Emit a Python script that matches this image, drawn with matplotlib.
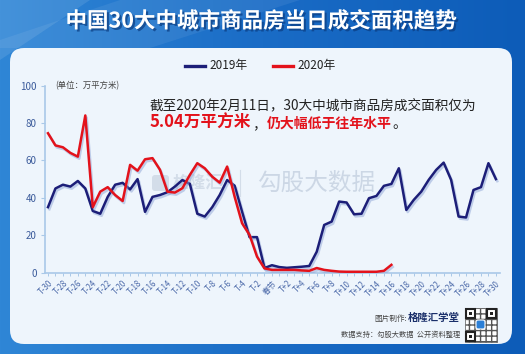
import numpy as np
import matplotlib
matplotlib.use("Agg")
import matplotlib.pyplot as plt
import matplotlib.patheffects as pe
from matplotlib.patches import FancyBboxPatch, Rectangle, Polygon

plt.rcParams['font.family'] = ['Noto Sans CJK SC', 'DejaVu Sans']

# x categories: T-30 .. T-1, 春节, T+1 .. T+30
days = ['T-%d' % k for k in range(30, 0, -1)] + ['春节'] + ['T+%d' % k for k in range(1, 31)]

# daily area traded, 万平方米
area_2019 = [35, 45, 47, 46, 49, 45, 33, 31.5, 40.5, 47,
             48, 44.5, 50, 32.5, 40.5, 41.5, 43, 46, 49.5, 47.5,
             31.5, 30, 35, 41.5, 49.5, 46.5, 32.5, 19, 19, 2.5,
             4, 3, 2.6, 2.9, 3.2, 3.6, 11.2, 25.5, 27.3, 38,
             37.5, 31.2, 31.5, 39.8, 41, 46.4, 47.4, 55.8, 33.5, 38.9,
             43.3, 49.6, 54.9, 58.8, 49.6, 30, 29.5, 44.2, 45.7, 58.5,
             50]
area_2020 = [74.5, 68, 67, 64, 62, 84, 35, 43.3, 45.7, 41.5,
             38.3, 57.6, 54.5, 60.6, 61.2, 55, 43.3, 42.8, 45.1, 52.2,
             58.5, 55.8, 51.3, 48.1, 56.7, 40.6, 26.4, 20.2, 8.6, 2.3,
             1.5, 1.5, 1.5, 1.5, 1.2, 1.0, 2.5, 1.5, 1.0, 0.6,
             0.5, 0.5, 0.5, 0.5, 0.5, 1.0, 4.2]
yticks = [0, 20, 40, 60, 80, 100]

W, H = 525, 354
fig = plt.figure(figsize=(W / 100, H / 100), dpi=100)

# ---- background (pixel coords) ----
bg = fig.add_axes([0, 0, 1, 1])
bg.set_xlim(0, W)
bg.set_ylim(H, 0)
bg.axis('off')
gx = np.linspace(0, 1, 200)
grad = np.vstack([gx] * 50)
cmap = matplotlib.colors.LinearSegmentedColormap.from_list('bgc', ['#2f86d6', '#1a6cc6', '#0d5cb8'])
bg.imshow(grad, extent=[0, W, H, 0], aspect='auto', cmap=cmap, zorder=0)
# light diagonal bands in the header
bg.add_patch(Polygon([[0, 0], [90, 0], [0, 60]], closed=True, color='white', alpha=0.10, lw=0, zorder=1))
bg.add_patch(Polygon([[120, 0], [300, 0], [150, 48], [0, 48], [0, 40]], closed=True, color='white', alpha=0.07, lw=0, zorder=1))
bg.add_patch(FancyBboxPatch((10, 48), 502, 296, boxstyle='round,pad=0,rounding_size=14',
                            fc='#eef5fc', ec='none', zorder=2))

title = bg.text(261, 21, '中国30大中城市商品房当日成交面积趋势', color='white', fontsize=15.5,
                fontweight='bold', ha='center', va='center', zorder=5)
title.set_path_effects([pe.SimplePatchShadow(offset=(1.5, -1.5), shadow_rgbFace='#0b3c80', alpha=0.7), pe.Normal()])

# legend
bg.plot([185, 205], [66, 66], color='#1c1e78', lw=2.4, zorder=5)
bg.text(209, 66, '2019年', fontsize=8.5, color='#222222', va='center', zorder=5)
bg.plot([273, 293], [66, 66], color='#e3121b', lw=2.4, zorder=5)
bg.text(297, 66, '2020年', fontsize=8.5, color='#222222', va='center', zorder=5)

# watermark
bg.add_patch(FancyBboxPatch((152, 175), 17, 16, boxstyle='round,pad=0,rounding_size=3',
                            fc='#d3dde9', ec='none', zorder=3))
bg.text(173, 183, '格隆汇', fontsize=12, color='#d3dde9', va='center', fontweight='bold', zorder=3)
bg.plot([240, 240], [170, 196], color='#d3dde9', lw=0.8, zorder=3)
bg.text(316, 183, '勾股大数据', fontsize=17, color='#ccd7e5', ha='center', va='center', zorder=3)

# annotation
bg.text(150, 105, '截至2020年2月11日，30大中城市商品房成交面积仅为', fontsize=9.8,
        color='#222222', va='center', zorder=6)
bg.text(150, 123, '5.04万平方米', fontsize=12, color='#e3121b', fontweight='bold', va='center', zorder=6)
bg.text(252, 124, '，', fontsize=10, color='#222222', va='center', zorder=6)
bg.text(267, 124, '仍大幅低于往年水平', fontsize=10, color='#e3121b', fontweight='bold', va='center', zorder=6)
bg.text(392, 124, '。', fontsize=10, color='#222222', va='center', zorder=6)

# footer
bg.text(407, 319, '图片制作:', fontsize=5.5, color='#444444', ha='right', va='center', zorder=6)
bg.text(460, 318, '格隆汇学堂', fontsize=7.5, color='#1a2f6a', fontweight='bold', ha='right', va='center', zorder=6)
bg.text(460, 335, '数据支持：勾股大数据  公开资料整理', fontsize=5.2, color='#444444', ha='right', va='center', zorder=6)
# qr-like badge
bg.add_patch(Rectangle((465, 308), 32, 34, fc='white', ec='#555555', lw=0.5, hatch='+++', zorder=6))
for qx, qy in [(466, 309), (487, 309), (466, 332)]:
    bg.add_patch(Rectangle((qx, qy), 9, 9, fc='white', ec='#222222', lw=1.5, zorder=7))
    bg.add_patch(Rectangle((qx + 3, qy + 3), 3, 3, fc='#222222', ec='none', zorder=8))
bg.add_patch(FancyBboxPatch((476, 320), 9, 9, boxstyle='round,pad=0,rounding_size=2',
                            fc='#2c7fd6', ec='white', lw=0.8, zorder=8))

# ---- chart ----
left, right = 45, 500
y0, y100 = 272.7, 85.5
ax = fig.add_axes([left / W, (H - y0) / H, (right - left) / W, (y0 - y100) / H])
ax.patch.set_alpha(0)
x = np.arange(len(days))
shadow = [pe.SimpleLineShadow(offset=(1, -1.5), shadow_color='#8ea4d6', alpha=0.5), pe.Normal()]
ax.plot(x, area_2019, color='#1c1e78', lw=1.8, path_effects=shadow, zorder=3)
ax.plot(x[:len(area_2020)], area_2020, color='#e3121b', lw=1.8, path_effects=shadow, zorder=4)

ax.set_xlim(-0.4, 60.55)
ax.set_ylim(0, 100)
for s in ['top', 'right']:
    ax.spines[s].set_visible(False)
for s in ['left', 'bottom']:
    ax.spines[s].set_color('#a9c8e8')
    ax.spines[s].set_linewidth(1.2)

ax.set_yticks(yticks)
ax.tick_params(axis='y', colors='#a9c8e8', labelcolor='#3b5b9b', labelsize=7, length=3, width=0.8, pad=3)
ax.set_xticks(x[::2])
ax.set_xticklabels(days[::2], rotation=45, ha='right', rotation_mode='anchor')
ax.set_xticks(x, minor=True)
ax.tick_params(axis='x', which='both', colors='#a9c8e8', labelcolor='#4a68a8', labelsize=5.7,
               length=2.5, width=0.7, pad=2)

ax.text(1, 100, '(单位：万平方米)', fontsize=6, color='#444444', va='center', ha='left')

fig.savefig('out.png', dpi=100)
